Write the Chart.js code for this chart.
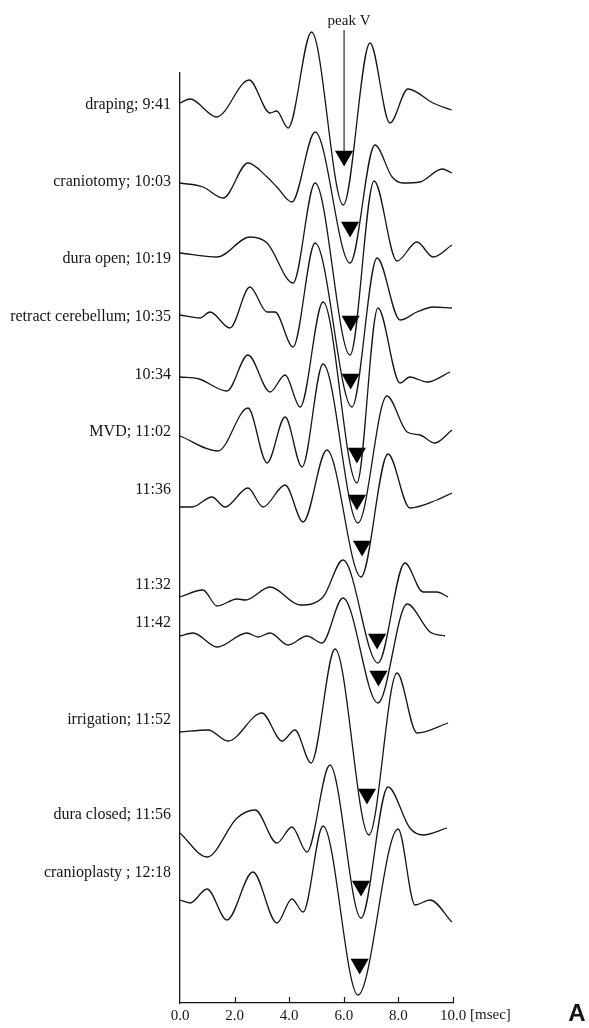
<!DOCTYPE html>
<html>
<head>
<meta charset="utf-8">
<script src="https://cdn.jsdelivr.net/npm/chart.js@4.4.1/dist/chart.umd.min.js"></script>
<style>
  html, body { margin: 0; padding: 0; background: #fff; }
  #wrap { width: 589px; height: 1028px; position: relative; }
</style>
</head>
<body>
<div id="wrap"><canvas id="abrChart"></canvas></div>
<script>
// each trace: [latency msec, amplitude] at its turning points, amplitude relative to its own baseline
const wDraping = [[0, 0], [0.37, 0.4], [1.34, -1.4], [2.53, 2.3], [3.3, -1.0], [3.54, -0.8], [3.96, -2.5], [4.82, 7.1], [5.98, -10.2], [6.96, 6.0], [7.69, -2.0], [8.35, 1.4], [9.27, 0], [9.95, -0.7]];
const wCraniotomy = [[0, 0], [0.84, -0.4], [1.58, -1.5], [2.49, 2.0], [3.19, 0.6], [3.55, -0.4], [4.1, -1.9], [4.95, 5.1], [6.23, -8.0], [7.14, 3.8], [7.77, 0.6], [8.17, 0], [8.79, 0.1], [9.6, 1.4], [9.96, 1.0]];
const wDuraOpen = [[0, 0], [1.36, -0.4], [2.56, 1.6], [3.19, 1.0], [4.14, -3.0], [4.95, 7.0], [6.23, -10.2], [7.11, 7.2], [7.95, -0.8], [8.68, 1.1], [9.27, -0.4], [9.96, 0.8]];
const wRetract = [[0, 0], [0.73, -0.3], [1.1, 0.3], [1.83, -1.3], [2.56, 2.8], [3.19, 0.3], [3.48, 0.3], [4.14, -3.2], [4.95, 7.2], [6.3, -9.2], [7.22, 5.7], [8.06, -0.5], [8.68, 0.3], [9.27, 0.8], [9.96, 0.7]];
const w1034 = [[0, 0], [0.7, -0.2], [1.72, -1.4], [2.49, 2.2], [3.3, -1.5], [3.85, 0.2], [4.4, -3.0], [5.24, 7.5], [6.48, -10.6], [7.25, 6.9], [8.06, -0.6], [8.42, 0], [9.05, -0.5], [9.89, 0.5]];
const wMvd = [[0, 0], [1.39, -1.5], [2.49, 2.8], [3.19, -2.7], [3.85, 1.9], [4.47, -3.1], [5.24, 7.2], [6.52, -8.7], [7.58, 4.0], [8.32, 0.4], [8.79, 0.1], [9.34, -0.7], [9.96, 0.6]];
const w1136 = [[0, 0], [0.44, 0], [1.17, 1.0], [1.65, 0], [2.49, 1.9], [3.04, 0], [3.85, 2.2], [4.51, -1.5], [5.38, 5.7], [6.63, -7.0], [7.62, 5.3], [8.42, -0.1], [9.41, 0.7], [9.96, 1.4]];
const w1132 = [[0, 0], [0.84, 0.7], [1.36, -0.9], [2.09, -0.2], [2.4, -0.3], [3.3, 1.0], [4.4, -0.8], [5.24, 0], [5.97, 3.7], [7.25, -6.6], [8.24, 3.4], [8.9, 0.5], [9.41, 0.5], [9.82, 0]];
const w1142 = [[0, 0], [0.48, 0.3], [1.36, -1.1], [2.45, 0.3], [2.86, -0.1], [3.3, 0.3], [3.96, -0.9], [4.65, 0], [5.2, -0.7], [5.97, 3.8], [7.25, -6.7], [8.32, 3.2], [9.16, 0.4], [9.71, 0]];
const wIrrigation = [[0, 0], [1.03, 0.2], [1.76, -0.9], [3.0, 1.9], [3.74, -0.9], [4.21, 0.2], [4.8, -3.1], [5.68, 8.3], [6.92, -10.3], [7.95, 5.9], [8.68, -0.1], [9.82, 0.9]];
const wDuraClosed = [[0, 0], [0.99, -2.4], [2.09, 1.5], [2.75, 2.3], [3.55, -1.0], [4.1, 0.6], [4.65, -1.9], [5.49, 6.8], [6.63, -8.5], [7.62, 4.6], [8.42, 0.5], [8.9, -0.2], [9.78, 0.5]];
const wCranioplasty = [[0, 0], [0.37, -0.3], [0.99, 1.1], [1.72, -2.0], [2.67, 2.8], [3.55, -2.3], [4.1, 0.1], [4.51, -1.2], [5.24, 7.4], [6.52, -9.5], [7.99, 7.1], [8.61, -0.5], [9.16, 0], [9.96, -2.2]];

const traces = [wDraping, wCraniotomy, wDuraOpen, wRetract, w1034, wMvd, w1136, w1132, w1142, wIrrigation, wDuraClosed, wCranioplasty];
const traceLabels = ["draping; 9:41", "craniotomy; 10:03", "dura open; 10:19", "retract cerebellum; 10:35", "10:34", "MVD; 11:02", "11:36", "11:32", "11:42", "irrigation; 11:52", "dura closed; 11:56", "cranioplasty ; 12:18"];
const traceOffsets = [90.0, 82.0, 75.0, 68.8, 62.6, 56.7, 49.6, 40.6, 36.7, 27.1, 17.0, 10.3];
const labelLevels = [89.8, 82.1, 74.4, 68.6, 62.8, 57.1, 51.3, 41.8, 38.0, 28.3, 18.8, 13.0];
const peakVLatency = [6.01, 6.23, 6.25, 6.25, 6.48, 6.48, 6.67, 7.22, 7.27, 6.85, 6.63, 6.58];
const peakVMark = [-5.3, -4.4, -6.8, -6.4, -7.6, -6.4, -3.9, -4.2, -4.0, -6.2, -5.3, -6.4];
const arrowTop = 97.3;

const INK = "#161616";
const SERIF = "'Liberation Serif', 'DejaVu Serif', serif";

const traceSets = traces.map((pts, i) => ({
  data: pts.map(([ms, amp]) => ({ x: ms, y: traceOffsets[i] + amp })),
  borderColor: INK,
  borderWidth: 1.3,
  pointRadius: 0,
  cubicInterpolationMode: "monotone",
  fill: false,
  clip: false,
}));

const markerSet = {
  data: peakVLatency.map((ms, i) => ({ x: ms, y: traceOffsets[i] + peakVMark[i] })),
  showLine: false,
  pointStyle: "triangle",
  rotation: 180,
  pointRadius: 10.5,
  pointBackgroundColor: "#000",
  pointBorderWidth: 0,
  clip: false,
};

const arrowSet = {
  data: [
    { x: peakVLatency[0], y: arrowTop },
    { x: peakVLatency[0], y: traceOffsets[0] + peakVMark[0] + 0.5 },
  ],
  borderColor: INK,
  borderWidth: 1.1,
  pointRadius: 0,
  clip: false,
};

const extras = {
  id: "extras",
  afterDraw(chart) {
    const { ctx, chartArea } = chart;
    const x = chart.scales.x;
    ctx.save();
    ctx.strokeStyle = INK;
    ctx.lineWidth = 1.2;
    for (let v = 2; v <= 10; v += 2) {
      const px = Math.round(x.getPixelForValue(v)) + 0.5;
      ctx.beginPath();
      ctx.moveTo(px, chartArea.bottom);
      ctx.lineTo(px, chartArea.bottom - 6);
      ctx.stroke();
    }
    ctx.fillStyle = INK;
    ctx.textBaseline = "middle";
    ctx.font = `15px ${SERIF}`;
    ctx.textAlign = "left";
    ctx.fillText("[msec]", x.getPixelForValue(10) + 17, chartArea.bottom + 12);
    ctx.textAlign = "center";
    ctx.fillText("peak V", x.getPixelForValue(peakVLatency[0]) + 5, chartArea.top - 52);
    ctx.font = "bold 24px 'Liberation Sans', Arial, sans-serif";
    ctx.fillText("A", 577, chartArea.bottom + 11);
    ctx.restore();
  },
};

new Chart(document.getElementById("abrChart"), {
  type: "line",
  data: { datasets: [...traceSets, markerSet, arrowSet] },
  options: {
    responsive: true,
    maintainAspectRatio: false,
    animation: false,
    layout: { padding: { left: 0, top: 73, right: 136, bottom: 0 } },
    plugins: { legend: { display: false }, tooltip: { enabled: false } },
    scales: {
      x: {
        type: "linear",
        min: 0,
        max: 10,
        ticks: {
          stepSize: 2,
          color: INK,
          padding: 4,
          font: { family: SERIF, size: 15 },
          callback: (v) => Number(v).toFixed(1),
        },
        grid: { drawOnChartArea: false, drawTicks: false },
        border: { display: true, color: INK, width: 1.3 },
        afterFit: (scale) => { scale.height = 25; },
      },
      y: {
        type: "linear",
        min: 0,
        max: 93,
        afterBuildTicks: (scale) => { scale.ticks = labelLevels.map((v) => ({ value: v })); },
        ticks: {
          autoSkip: false,
          color: INK,
          padding: 9,
          font: { family: SERIF, size: 16 },
          callback: (v, i) => traceLabels[i],
        },
        grid: { drawOnChartArea: false, drawTicks: false },
        border: { display: true, color: INK, width: 1.3 },
        afterFit: (scale) => { scale.width = 180; },
      },
    },
  },
  plugins: [extras],
});
</script>
</body>
</html>
